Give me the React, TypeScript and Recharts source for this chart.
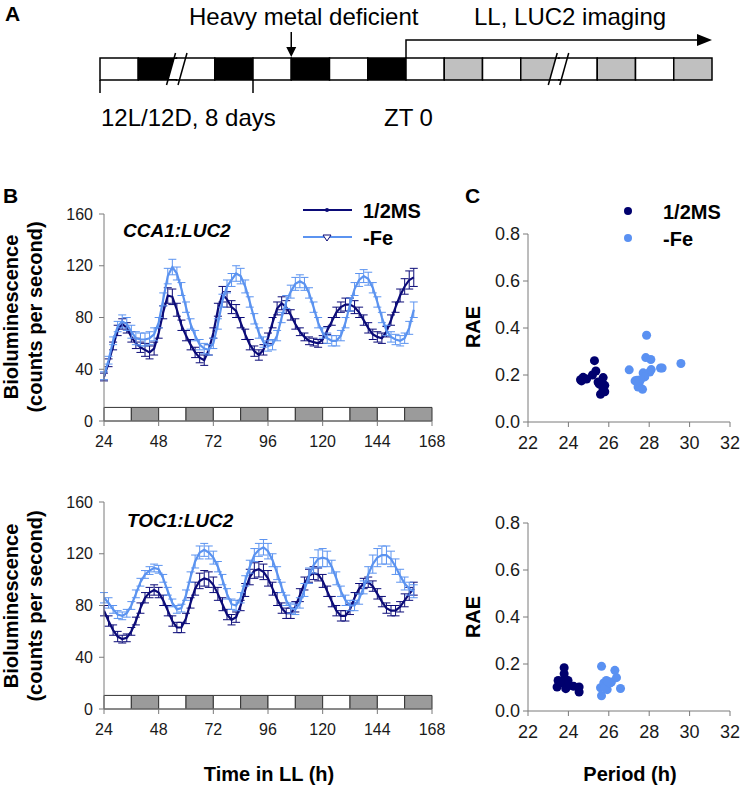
import React from "react";
import {
  ComposedChart,
  LineChart,
  Line,
  ErrorBar,
  ScatterChart,
  Scatter,
  XAxis,
  YAxis,
  ZAxis,
  ReferenceArea,
} from "recharts";

const NAVY = "#0b0b78";
const SKY = "#5b93f0";
const AXIS = "#7a7a7a";
const FONT = '"Liberation Sans", Arial, sans-serif';

// panel A: light regime, one slot = 12 h
const A_SLOTS = ["L", "D", "L", "D", "L", "D", "L", "D", "L", "S", "L", "S", "L", "S", "L", "S"];
const A_FILL: Record<string, string> = { L: "#ffffff", D: "#000000", S: "#c0c0c0" };
const A_BREAKS = [1.74, 11.72];
const A_LEFT = 100;
const A_SLOT = 38.25;

// panel B: time courses (h in LL)
const HOURS = [
  24, 26, 28, 30, 32, 34, 36, 38, 40, 42,
  44, 46, 48, 50, 52, 54, 56, 58, 60, 62,
  64, 66, 68, 70, 72, 74, 76, 78, 80, 82,
  84, 86, 88, 90, 92, 94, 96, 98, 100, 102,
  104, 106, 108, 110, 112, 114, 116, 118, 120, 122,
  124, 126, 128, 130, 132, 134, 136, 138, 140, 142,
  144, 146, 148, 150, 152, 154, 156, 158, 160,
];
const CCA_MS = [
  34, 45, 58, 70, 75, 72, 65, 60, 57, 55,
  53, 56, 68, 84, 97, 96, 86, 74, 66, 59,
  53, 49, 47, 55, 68, 86, 98, 94, 88, 85,
  76, 67, 59, 54, 51, 55, 64, 76, 87, 91,
  88, 82, 75, 69, 65, 62, 61, 60, 63, 70,
  77, 84, 88, 90, 90, 88, 84, 78, 72, 67,
  65, 64, 69, 78, 88, 97, 104, 109, 111,
];
const CCA_MS_ERR = [
  3, 3, 3, 4, 4, 4, 4, 4, 4, 5,
  5, 5, 4, 5, 6, 6, 5, 4, 4, 4,
  4, 4, 4, 4, 4, 5, 6, 6, 5, 5,
  4, 4, 4, 4, 4, 4, 4, 4, 5, 5,
  5, 4, 4, 3, 3, 3, 3, 3, 3, 3,
  3, 4, 4, 5, 5, 5, 4, 4, 4, 4,
  4, 4, 4, 4, 4, 5, 6, 7, 7,
];
const CCA_FE = [
  35, 47, 62, 73, 77, 75, 69, 64, 63, 63,
  64, 67, 76, 94, 112, 119, 114, 102, 88, 75,
  66, 59, 56, 55, 60, 75, 93, 104, 109, 114,
  112, 104, 92, 79, 68, 61, 58, 59, 66, 80,
  92, 100, 106, 108, 106, 99, 88, 76, 68, 64,
  62, 62, 66, 76, 90, 102, 109, 112, 110, 103,
  92, 80, 70, 65, 63, 62, 64, 72, 86,
];
const CCA_FE_ERR = [
  3, 3, 3, 4, 5, 5, 5, 5, 5, 5,
  5, 5, 4, 5, 6, 6, 5, 5, 4, 4,
  4, 4, 4, 4, 4, 4, 5, 5, 5, 6,
  6, 5, 4, 4, 4, 4, 4, 4, 4, 4,
  5, 5, 5, 5, 5, 4, 4, 4, 4, 4,
  4, 4, 4, 4, 5, 5, 5, 5, 5, 4,
  4, 4, 4, 4, 4, 4, 4, 5, 6,
];
const TOC_MS = [
  76, 68, 61, 56, 54, 55, 60, 68, 78, 86,
  90, 92, 90, 84, 76, 68, 63, 63, 70, 82,
  93, 99, 101, 100, 96, 89, 81, 73, 69, 71,
  80, 92, 102, 107, 108, 106, 101, 93, 85, 78,
  74, 74, 79, 88, 97, 103, 105, 104, 99, 91,
  83, 76, 72, 72, 77, 86, 93, 97, 98, 95,
  89, 83, 78, 76, 76, 79, 84, 89, 93,
];
const TOC_MS_ERR = [
  4, 4, 4, 4, 3, 3, 3, 3, 4, 4,
  4, 4, 4, 4, 4, 4, 4, 4, 4, 4,
  5, 6, 6, 6, 6, 5, 5, 4, 4, 4,
  4, 5, 6, 6, 6, 6, 6, 5, 5, 4,
  4, 4, 4, 5, 5, 5, 5, 5, 5, 4,
  4, 4, 4, 4, 4, 4, 4, 4, 4, 4,
  4, 4, 4, 4, 4, 4, 5, 5, 5,
];
const TOC_FE = [
  86, 82, 77, 73, 72, 74, 80, 89, 98, 104,
  107, 109, 108, 101, 91, 82, 77, 78, 88, 102,
  114, 121, 123, 121, 117, 110, 100, 89, 81, 80,
  86, 99, 110, 119, 123, 125, 122, 115, 105, 94,
  84, 78, 77, 82, 92, 103, 111, 116, 117, 116,
  110, 101, 91, 84, 80, 80, 85, 94, 104, 112,
  117, 119, 119, 116, 110, 103, 97, 93, 91,
];
const TOC_FE_ERR = [
  4, 4, 3, 3, 3, 3, 3, 3, 3, 3,
  3, 3, 3, 3, 3, 3, 3, 3, 4, 4,
  5, 5, 5, 5, 5, 4, 4, 4, 4, 4,
  4, 4, 5, 5, 5, 6, 6, 5, 5, 4,
  4, 4, 4, 4, 5, 6, 6, 7, 7, 6,
  5, 5, 4, 4, 4, 4, 4, 5, 6, 7,
  7, 7, 7, 6, 6, 5, 5, 5, 5,
];
const STRIP_START = [24, 36, 48, 60, 72, 84, 96, 108, 120, 132, 144, 156];
const STRIP_DARK = [false, true, false, true, false, true, false, true, false, true, false, true];
const HOUR_TICKS = [24, 48, 72, 96, 120, 144, 168];
const BIO_TICKS = [0, 40, 80, 120, 160];

// panel C: period vs RAE
const CCA_MS_PERIOD = [24.6, 24.73, 24.9, 25.29, 25.36, 25.19, 25.72, 25.47, 25.55, 25.8, 25.72, 25.8, 25.59, 25.5, 24.65];
const CCA_MS_RAE = [0.18, 0.19, 0.183, 0.261, 0.217, 0.2, 0.189, 0.17, 0.16, 0.156, 0.138, 0.129, 0.118, 0.166, 0.175];
const CCA_FE_PERIOD = [27.01, 27.87, 27.83, 28.08, 28.56, 28.64, 29.57, 28.1, 28.03, 27.7, 27.78, 27.4, 27.5, 27.45, 27.67, 27.57, 27.3];
const CCA_FE_RAE = [0.222, 0.369, 0.274, 0.266, 0.23, 0.23, 0.249, 0.223, 0.213, 0.209, 0.192, 0.178, 0.166, 0.149, 0.139, 0.18, 0.175];
const TOC_MS_PERIOD = [23.79, 23.79, 23.49, 23.44, 23.74, 23.87, 24.07, 24.26, 24.53, 24.53, 23.82, 23.98, 23.6];
const TOC_MS_RAE = [0.184, 0.159, 0.13, 0.102, 0.119, 0.095, 0.109, 0.105, 0.102, 0.081, 0.138, 0.13, 0.128];
const TOC_FE_PERIOD = [25.64, 25.64, 25.59, 25.75, 25.88, 25.92, 26.13, 26.3, 26.38, 26.58, 25.82, 26.05, 25.95];
const TOC_FE_RAE = [0.19, 0.065, 0.099, 0.119, 0.13, 0.091, 0.123, 0.173, 0.142, 0.096, 0.099, 0.119, 0.125];
const PERIOD_TICKS = [22, 24, 26, 28, 30, 32];
const RAE_TICKS = [0, 0.2, 0.4, 0.6, 0.8];

const rows = (ms: number[], msErr: number[], fe: number[], feErr: number[]) =>
  HOURS.map((t, i) => ({ t, ms: ms[i], msErr: msErr[i], fe: fe[i], feErr: feErr[i] }));
const points = (px: number[], py: number[]) => px.map((x, i) => ({ x, y: py[i] }));

function BreakMark(props: any) {
  const { x, y, width, height } = props;
  const ext = 5;
  const k = 0.28;
  const at = (xb: number, yy: number) => xb + k * (y + height + ext - yy);
  const y0 = y + height - 1;
  const y1 = y + 1;
  const x2 = x + width;
  return (
    <g>
      <polygon
        points={`${at(x, y0)},${y0} ${at(x2, y0)},${y0} ${at(x2, y1)},${y1} ${at(x, y1)},${y1}`}
        fill="#fff"
      />
      <line x1={x} y1={y + height + ext} x2={at(x, y - ext)} y2={y - ext} stroke="#000" strokeWidth={1.5} />
      <line x1={x2} y1={y + height + ext} x2={at(x2, y - ext)} y2={y - ext} stroke="#000" strokeWidth={1.5} />
    </g>
  );
}

function Protocol() {
  const axisData = [
    { x: 0, y: 0 },
    { x: A_SLOTS.length, y: 1 },
  ];
  return (
    <ComposedChart width={740} height={130} data={axisData} margin={{ top: 58, right: 28, bottom: 50, left: A_LEFT }}>
      <XAxis dataKey="x" type="number" domain={[0, 16]} hide />
      <YAxis dataKey="y" type="number" domain={[0, 1]} hide />
      <Line dataKey="y" stroke="none" dot={false} isAnimationActive={false} />
      {A_SLOTS.map((s, i) => (
        <ReferenceArea
          key={i}
          x1={i}
          x2={i + 1}
          y1={0}
          y2={1}
          fill={A_FILL[s]}
          fillOpacity={1}
          stroke="#000"
          strokeWidth={1.5}
          ifOverflow="visible"
        />
      ))}
      {A_BREAKS.map((b, i) => (
        <ReferenceArea key={"br" + i} x1={b} x2={b + 0.3} y1={0} y2={1} ifOverflow="visible" shape={BreakMark} />
      ))}
    </ComposedChart>
  );
}

function Timecourse({ data }: { data: ReturnType<typeof rows> }) {
  return (
    <LineChart width={450} height={270} data={data} margin={{ top: 24, right: 18, bottom: 9, left: 60 }}>
      <XAxis
        dataKey="t"
        type="number"
        domain={[24, 168]}
        ticks={HOUR_TICKS}
        allowDataOverflow
        axisLine={{ stroke: AXIS }}
        tickLine={{ stroke: AXIS }}
        tickSize={5}
        tickMargin={10}
        height={30}
        tick={{ fill: "#1a1a1a", fontSize: 16, fontFamily: FONT }}
      />
      <YAxis
        type="number"
        domain={[0, 160]}
        ticks={BIO_TICKS}
        allowDataOverflow
        width={44}
        axisLine={{ stroke: AXIS }}
        tickLine={{ stroke: AXIS }}
        tickSize={5}
        tickMargin={6}
        tick={{ fill: "#1a1a1a", fontSize: 16, fontFamily: FONT }}
      />
      {STRIP_START.map((s, i) => (
        <ReferenceArea
          key={s}
          x1={s}
          x2={s + 12}
          y1={0}
          y2={10.5}
          fill={STRIP_DARK[i] ? "#9b9b9b" : "#ffffff"}
          fillOpacity={1}
          stroke="#333"
          strokeWidth={1}
        />
      ))}
      <Line dataKey="ms" stroke={NAVY} strokeWidth={2.2} dot={false} isAnimationActive={false}>
        <ErrorBar dataKey="msErr" width={4} stroke={NAVY} strokeWidth={1} direction="y" />
      </Line>
      <Line dataKey="fe" stroke={SKY} strokeWidth={2.2} dot={false} isAnimationActive={false}>
        <ErrorBar dataKey="feErr" width={4} stroke={SKY} strokeWidth={1} direction="y" />
      </Line>
    </LineChart>
  );
}

function Rhythm({ ms, fe, top }: { ms: { x: number; y: number }[]; fe: { x: number; y: number }[]; top: number }) {
  return (
    <ScatterChart width={290} height={270} margin={{ top, right: 10, bottom: 52 - top, left: 30 }}>
      <XAxis
        dataKey="x"
        type="number"
        domain={[22, 32]}
        ticks={PERIOD_TICKS}
        axisLine={{ stroke: AXIS }}
        tickLine={{ stroke: AXIS }}
        tickSize={5}
        tickMargin={9}
        height={30}
        tick={{ fill: "#1a1a1a", fontSize: 18, fontFamily: FONT }}
      />
      <YAxis
        dataKey="y"
        type="number"
        domain={[0, 0.8]}
        ticks={RAE_TICKS}
        width={48}
        axisLine={{ stroke: AXIS }}
        tickLine={{ stroke: AXIS }}
        tickSize={5}
        tickMargin={3}
        tickFormatter={(v: number) => v.toFixed(1)}
        tick={{ fill: "#1a1a1a", fontSize: 18, fontFamily: FONT }}
      />
      <ZAxis range={[40, 40]} />
      <Scatter data={ms} fill="#00006e" isAnimationActive={false} />
      <Scatter data={fe} fill="#5a91f2" isAnimationActive={false} />
    </ScatterChart>
  );
}

function Overlay() {
  const zt0 = A_LEFT + 8 * A_SLOT;
  const hm = A_LEFT + 5 * A_SLOT;
  const end = A_LEFT + 16 * A_SLOT;
  const bold = { fontFamily: FONT, fontWeight: 700, fill: "#000" } as const;
  const reg = { fontFamily: FONT, fontSize: 24, fill: "#000" } as const;
  const yLabel = (cx: number, cy: number) => (
    <g transform={`translate(${cx},${cy}) rotate(-90)`}>
      <text x={0} y={0} textAnchor="middle" fontSize={20} {...bold}>Bioluminescence</text>
      <text x={0} y={24} textAnchor="middle" fontSize={20} {...bold}>(counts per second)</text>
    </g>
  );
  return (
    <svg width={740} height={788} style={{ position: "absolute", left: 0, top: 0, pointerEvents: "none" }}>
      {/* A */}
      <text x={5} y={21} fontSize={21} {...bold}>A</text>
      <text x={189} y={25} {...reg}>Heavy metal deficient</text>
      <text x={474} y={25} {...reg}>LL, LUC2 imaging</text>
      <text x={A_LEFT + 1} y={126} {...reg}>12L/12D, 8 days</text>
      <text x={384} y={126} {...reg}>ZT 0</text>
      <line x1={hm} y1={32} x2={hm} y2={50} stroke="#000" strokeWidth={1.5} />
      <polygon points={`${hm - 5},${47} ${hm + 5},${47} ${hm},${57}`} fill="#000" />
      <polyline points={`${zt0},58 ${zt0},40 ${end - 14},40`} fill="none" stroke="#000" strokeWidth={1.5} />
      <polygon points={`${end - 15},34 ${end},40 ${end - 15},46`} fill="#000" />
      <line x1={A_LEFT} y1={80} x2={A_LEFT} y2={93} stroke="#000" strokeWidth={1.5} />
      <line x1={A_LEFT + 4 * A_SLOT} y1={80} x2={A_LEFT + 4 * A_SLOT} y2={93} stroke="#000" strokeWidth={1.5} />

      {/* B */}
      <text x={3} y={203} fontSize={21} {...bold}>B</text>
      {yLabel(18, 317)}
      {yLabel(18, 606)}
      <text x={123} y={237} fontSize={19} fontStyle="italic" {...bold}>CCA1:LUC2</text>
      <text x={127} y={527} fontSize={19} fontStyle="italic" {...bold}>TOC1:LUC2</text>
      <line x1={303} y1={210} x2={352} y2={210} stroke={NAVY} strokeWidth={2} />
      <circle cx={327} cy={210} r={2} fill={NAVY} />
      <line x1={303} y1={237} x2={352} y2={237} stroke={SKY} strokeWidth={2} />
      <polygon points="323,235 331,235 327,241" fill="#fff" stroke={NAVY} strokeWidth={1} />
      <text x={363} y={218} fontSize={20} {...bold}>1/2MS</text>
      <text x={363} y={245} fontSize={20} {...bold}>-Fe</text>
      <text x={269} y={781} fontSize={20} textAnchor="middle" {...bold}>Time in LL (h)</text>

      {/* C */}
      <text x={465} y={203} fontSize={21} {...bold}>C</text>
      <circle cx={628} cy={211} r={4} fill="#00006e" />
      <circle cx={628} cy={238} r={4} fill="#5a91f2" />
      <text x={663} y={219} fontSize={20} {...bold}>1/2MS</text>
      <text x={663} y={246} fontSize={20} {...bold}>-Fe</text>
      <g transform="translate(480,327) rotate(-90)">
        <text x={0} y={0} textAnchor="middle" fontSize={20} {...bold}>RAE</text>
      </g>
      <g transform="translate(480,617) rotate(-90)">
        <text x={0} y={0} textAnchor="middle" fontSize={20} {...bold}>RAE</text>
      </g>
      <text x={630} y={781} fontSize={20} textAnchor="middle" {...bold}>Period (h)</text>
    </svg>
  );
}

export default function App() {
  return (
    <div style={{ position: "absolute", left: 0, top: 0, width: 740, height: 788, background: "#fff", fontFamily: FONT }}>
      <div style={{ position: "absolute", left: 0, top: 0 }}>
        <Protocol />
      </div>
      <div style={{ position: "absolute", left: 0, top: 190 }}>
        <Timecourse data={rows(CCA_MS, CCA_MS_ERR, CCA_FE, CCA_FE_ERR)} />
      </div>
      <div style={{ position: "absolute", left: 0, top: 478 }}>
        <Timecourse data={rows(TOC_MS, TOC_MS_ERR, TOC_FE, TOC_FE_ERR)} />
      </div>
      <div style={{ position: "absolute", left: 450, top: 190 }}>
        <Rhythm ms={points(CCA_MS_PERIOD, CCA_MS_RAE)} fe={points(CCA_FE_PERIOD, CCA_FE_RAE)} top={44} />
      </div>
      <div style={{ position: "absolute", left: 450, top: 478 }}>
        <Rhythm ms={points(TOC_MS_PERIOD, TOC_MS_RAE)} fe={points(TOC_FE_PERIOD, TOC_FE_RAE)} top={45} />
      </div>
      <Overlay />
    </div>
  );
}
